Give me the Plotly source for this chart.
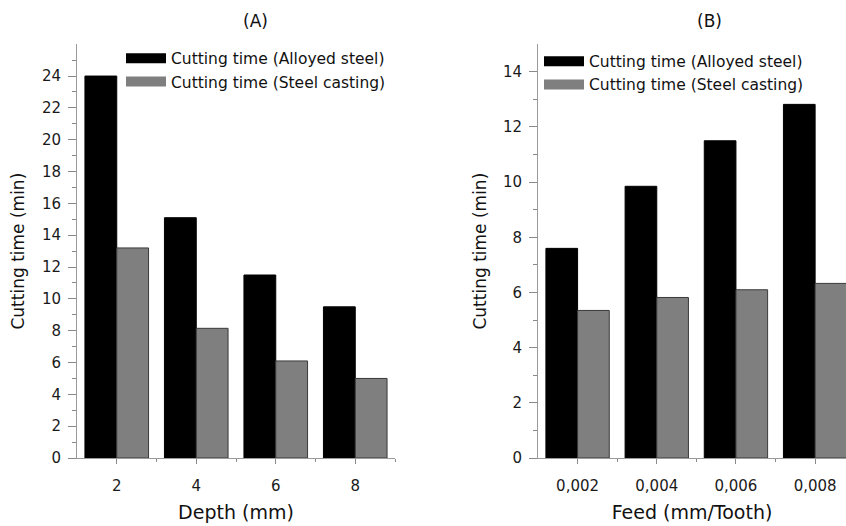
import plotly.graph_objects as go

# ---- data ----
depth = [2, 4, 6, 8]
depth_alloyed = [24.0, 15.1, 11.5, 9.5]
depth_casting = [13.2, 8.15, 6.1, 5.0]

feed = [0.002, 0.004, 0.006, 0.008]
feed_labels = ["0,002", "0,004", "0,006", "0,008"]
feed_alloyed = [7.6, 9.85, 11.5, 12.82]
feed_casting = [5.35, 5.82, 6.1, 6.33]

name_alloyed = "Cutting time (Alloyed steel)"
name_casting = "Cutting time (Steel casting)"

FONT = "DejaVu Sans"
BLACK = "#000000"
GRAY = "#7f7f7f"

fig = go.Figure()

# Panel A bars
fig.add_trace(go.Bar(x=depth, y=depth_alloyed, name=name_alloyed, xaxis="x", yaxis="y",
                     marker=dict(color=BLACK, line=dict(color=BLACK, width=1)), showlegend=False))
fig.add_trace(go.Bar(x=depth, y=depth_casting, name=name_casting, xaxis="x", yaxis="y",
                     marker=dict(color=GRAY, line=dict(color="#3a3a3a", width=1)), showlegend=False))
# Panel B bars
fig.add_trace(go.Bar(x=feed, y=feed_alloyed, name=name_alloyed, xaxis="x2", yaxis="y2",
                     marker=dict(color=BLACK, line=dict(color=BLACK, width=1)), showlegend=False))
fig.add_trace(go.Bar(x=feed, y=feed_casting, name=name_casting, xaxis="x2", yaxis="y2",
                     marker=dict(color=GRAY, line=dict(color="#3a3a3a", width=1)), showlegend=False))

# Legend-only entries with wide swatches
for leg, xa, ya in (("legend", "x", "y"), ("legend2", "x2", "y2")):
    fig.add_trace(go.Scatter(x=[None], y=[None], mode="lines", name=name_alloyed, xaxis=xa, yaxis=ya,
                             line=dict(color=BLACK, width=14), legend=leg, hoverinfo="skip"))
    fig.add_trace(go.Scatter(x=[None], y=[None], mode="lines", name=name_casting, xaxis=xa, yaxis=ya,
                             line=dict(color=GRAY, width=14), legend=leg, hoverinfo="skip"))

W, H = 846, 526
ydom = [60 / H, 481 / H]
axis_common = dict(showline=True, linecolor="#9a9a9a", linewidth=1, ticks="outside",
                   tickcolor="#8a8a8a", showgrid=False, zeroline=False,
                   tickfont=dict(family=FONT, size=15, color="#1a1a1a"))
xtitle_font = dict(family=FONT, size=19, color="#111")
ytitle_font = dict(family=FONT, size=17, color="#111")

fig.update_layout(
    width=W, height=H,
    margin=dict(l=0, r=0, t=0, b=0),
    paper_bgcolor="white", plot_bgcolor="white",
    barmode="group", bargap=0.2, bargroupgap=0,
    font=dict(family=FONT, color="#111"),
    xaxis=dict(domain=[77 / W, 395 / W], range=[1, 9], anchor="y",
               tickvals=depth, ticklen=5, ticklabelstandoff=9,
               minor=dict(tickvals=[3, 5, 7, 9], ticklen=3, ticks="outside", tickcolor="#8a8a8a"),
               title=dict(text="Depth (mm)", standoff=11, font=xtitle_font), **axis_common),
    yaxis=dict(domain=ydom, range=[0, 26], anchor="x",
               tickvals=list(range(0, 25, 2)), ticklen=8, ticklabelstandoff=4,
               minor=dict(tickvals=list(range(1, 26, 2)), ticklen=4, ticks="outside", tickcolor="#8a8a8a"),
               title=dict(text="Cutting time (min)", standoff=12, font=ytitle_font), **axis_common),
    xaxis2=dict(domain=[538 / W, 1.0], range=[0.001, 0.00878], anchor="y2",
                tickvals=feed, ticktext=feed_labels, ticklen=5, ticklabelstandoff=9,
                minor=dict(tickvals=[0.003, 0.005, 0.007], ticklen=3, ticks="outside", tickcolor="#8a8a8a"),
                title=dict(text="Feed (mm/Tooth)", standoff=11, font=xtitle_font), **axis_common),
    yaxis2=dict(domain=ydom, range=[0, 15], anchor="x2",
                tickvals=list(range(0, 15, 2)), ticklen=8, ticklabelstandoff=4,
                minor=dict(tickvals=list(range(1, 15, 2)), ticklen=4, ticks="outside", tickcolor="#8a8a8a"),
                title=dict(text="Cutting time (min)", standoff=11, font=ytitle_font), **axis_common),
    legend=dict(x=121 / W, y=1 - 42.5 / H, xanchor="left", yanchor="top", bgcolor="rgba(0,0,0,0)",
                itemwidth=40, font=dict(family=FONT, size=15.5, color="#111")),
    legend2=dict(x=539 / W, y=1 - 45.5 / H, xanchor="left", yanchor="top", bgcolor="rgba(0,0,0,0)",
                 itemwidth=40, font=dict(family=FONT, size=15.5, color="#111")),
    annotations=[
        dict(text="(A)", x=255 / W, y=1 - 21 / H, xref="paper", yref="paper", showarrow=False,
             xanchor="center", yanchor="middle", font=dict(family=FONT, size=17, color="#111")),
        dict(text="(B)", x=709 / W, y=1 - 21 / H, xref="paper", yref="paper", showarrow=False,
             xanchor="center", yanchor="middle", font=dict(family=FONT, size=17, color="#111")),
    ],
)

fig.write_html("out.html")
